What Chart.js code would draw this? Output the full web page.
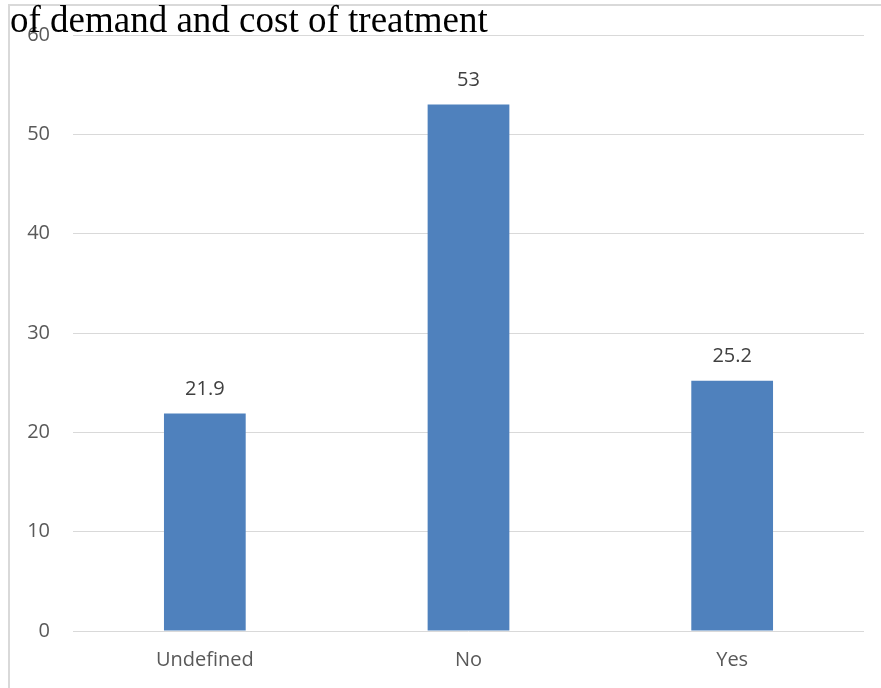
<!DOCTYPE html>
<html>
<head>
<meta charset="utf-8">
<script src="https://cdn.jsdelivr.net/npm/chart.js@4/dist/chart.umd.min.js"></script>
<style>
  html, body { margin: 0; padding: 0; background: #fff; }
  #wrap { position: relative; width: 881px; height: 688px; overflow: hidden; }
  #frame { position: absolute; left: 8px; top: 4px; width: 900px; height: 720px;
           border-left: 2px solid #d9d9d9; border-top: 2px solid #d9d9d9; }
  #chart { position: absolute; left: 0; top: 0; }
  #title { position: absolute; left: 10px; top: 0px; font-family: "Liberation Serif", "Times New Roman", serif;
           font-size: 37px; line-height: 40px; color: #000; white-space: nowrap; z-index: 2; }
</style>
</head>
<body>
<div id="wrap">
  <div id="frame"></div>
  <canvas id="chart" width="881" height="688"></canvas>
  <div id="title">of demand and cost of treatment</div>
</div>
<script>
const categories = ["Undefined", "No", "Yes"];
const percentages = [21.9, 53, 25.2];
const yTicks = [0, 10, 20, 30, 40, 50, 60];

const textGrey = "#595959";
const barBlue = "#4f81bd";
const labelFont = "'Open Sans', sans-serif";

// writes each bar's value just above it
const valueLabels = {
  id: "valueLabels",
  afterDatasetsDraw(chart) {
    const ctx = chart.ctx;
    const meta = chart.getDatasetMeta(0);
    ctx.save();
    ctx.font = "20px " + labelFont;
    ctx.fillStyle = "#404040";
    ctx.textAlign = "center";
    ctx.textBaseline = "middle";
    meta.data.forEach((bar, i) => {
      ctx.fillText(String(percentages[i]), bar.x, bar.y - 24);
    });
    ctx.restore();
  }
};

new Chart(document.getElementById("chart"), {
  type: "bar",
  data: {
    labels: categories,
    datasets: [{
      data: percentages,
      backgroundColor: barBlue,
      borderWidth: 0,
      categoryPercentage: 1,
      barPercentage: 0.31
    }]
  },
  options: {
    responsive: false,
    animation: false,
    layout: { padding: { left: 0, right: 17, top: 35, bottom: 0 } },
    plugins: { legend: { display: false }, tooltip: { enabled: false } },
    scales: {
      x: {
        grid: { display: false },
        border: { display: false },
        ticks: { color: textGrey, font: { size: 20, family: labelFont }, padding: 9 },
        afterFit(scale) { scale.height = 57; }
      },
      y: {
        min: 0, max: 60,
        afterBuildTicks(scale) { scale.ticks = yTicks.map(v => ({ value: v })); },
        grid: { color: "#d9d9d9", lineWidth: 1, drawTicks: false },
        border: { display: false },
        ticks: { color: textGrey, font: { size: 20, family: labelFont }, padding: 23 },
        afterFit(scale) { scale.width = 73; }
      }
    }
  },
  plugins: [valueLabels]
});
</script>
</body>
</html>
